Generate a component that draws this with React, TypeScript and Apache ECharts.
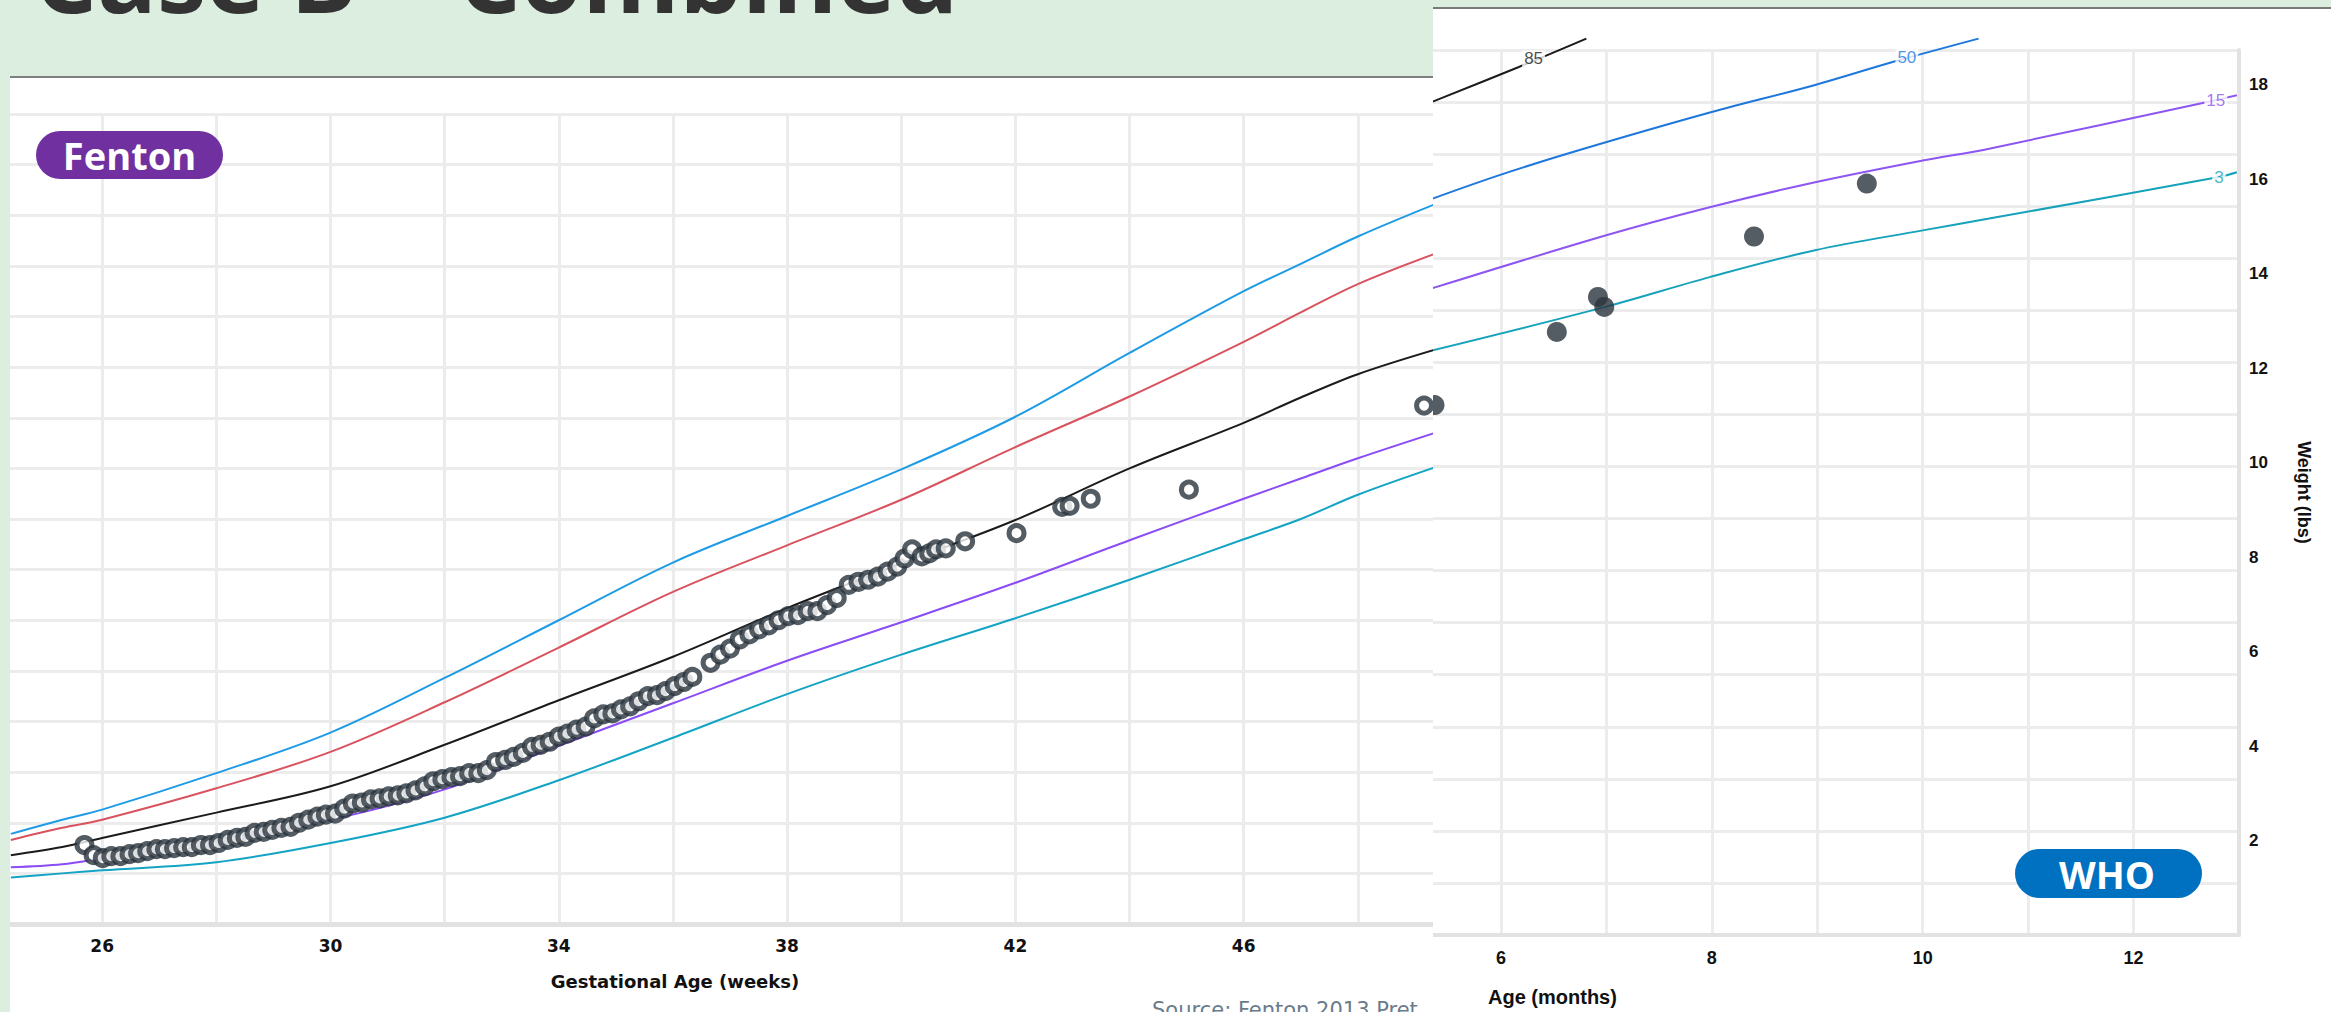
import React, { useEffect, useRef } from "react";
import * as echarts from "echarts";

// ---------------- Fenton (gestational age in weeks, weight in kg) ----------------
const fentonWeeks = [24.4, 25.3, 26, 28, 30, 32, 34, 36, 38, 40, 42, 44, 46, 47, 48, 49.4];
const fentonP97 = [0.89, 1.03, 1.13, 1.49, 1.89, 2.43, 3.0, 3.57, 4.03, 4.49, 5.01, 5.64, 6.25, 6.52, 6.79, 7.12];
const fentonP90 = [0.83, 0.95, 1.03, 1.34, 1.7, 2.19, 2.73, 3.28, 3.74, 4.19, 4.71, 5.21, 5.75, 6.04, 6.32, 6.63];
const fentonP50 = [0.68, 0.76, 0.85, 1.1, 1.36, 1.77, 2.21, 2.64, 3.12, 3.56, 3.99, 4.5, 4.95, 5.2, 5.43, 5.68];
const fentonP10 = [0.56, 0.59, 0.65, 0.83, 1.03, 1.33, 1.76, 2.18, 2.6, 2.98, 3.37, 3.79, 4.2, 4.4, 4.6, 4.86];
const fentonP3 = [0.46, 0.5, 0.53, 0.61, 0.8, 1.05, 1.42, 1.84, 2.27, 2.66, 3.02, 3.4, 3.8, 4.0, 4.24, 4.52];
const fentonTickLabels = [26, 30, 34, 38, 42, 46];

const fentonPatientWeeks = [
  25.69, 25.85, 26.01, 26.16, 26.32, 26.48, 26.63, 26.79, 26.95, 27.1, 27.26, 27.42, 27.57, 27.73, 27.89,
  28.04, 28.2, 28.36, 28.51, 28.67, 28.83, 28.98, 29.14, 29.3, 29.45, 29.61, 29.77, 29.92, 30.08, 30.24,
  30.39, 30.55, 30.71, 30.86, 31.02, 31.18, 31.33, 31.49, 31.65, 31.8, 31.96, 32.12, 32.27, 32.43, 32.59,
  32.74, 32.9, 33.06, 33.21, 33.37, 33.53, 33.68, 33.84, 34.0, 34.15, 34.31, 34.47, 34.62, 34.78, 34.94,
  35.09, 35.25, 35.4, 35.56, 35.72, 35.87, 36.03, 36.19, 36.34, 36.66, 36.83, 37.0, 37.17, 37.34, 37.51,
  37.68, 37.85, 38.02, 38.19, 38.36, 38.53, 38.7, 38.87, 39.08, 39.25, 39.42, 39.59, 39.76, 39.93, 40.06,
  40.19, 40.36, 40.49, 40.61, 40.78, 41.12, 42.02, 42.82, 42.95, 43.32, 45.04, 49.16,
];
const fentonPatientKg = [
  0.78, 0.68, 0.65, 0.67, 0.67, 0.69, 0.7, 0.72, 0.74, 0.74, 0.75, 0.76, 0.76, 0.78, 0.78,
  0.8, 0.83, 0.85, 0.86, 0.9, 0.91, 0.93, 0.95, 0.96, 1.0, 1.03, 1.06, 1.08, 1.09, 1.14,
  1.19, 1.2, 1.23, 1.24, 1.26, 1.27, 1.29, 1.32, 1.36, 1.41, 1.43, 1.45, 1.46, 1.49, 1.49,
  1.52, 1.6, 1.62, 1.65, 1.69, 1.75, 1.77, 1.8, 1.85, 1.88, 1.92, 1.95, 2.03, 2.07, 2.08,
  2.12, 2.15, 2.2, 2.25, 2.26, 2.3, 2.35, 2.39, 2.44, 2.58, 2.66, 2.72, 2.81, 2.86, 2.91,
  2.95, 3.0, 3.04, 3.05, 3.09, 3.09, 3.15, 3.22, 3.35, 3.38, 3.4, 3.43, 3.48, 3.53, 3.61,
  3.7, 3.63, 3.66, 3.7, 3.71, 3.78, 3.86, 4.12, 4.13, 4.2, 4.29, 5.12,
];

// ---------------- WHO (age in months, weight in lbs) ----------------
const whoP85Months = [5.3, 6.17, 6.81];
const whoP85Lbs = [17.6, 18.38, 18.98];
const whoP50Months = [5.3, 6.0, 6.73, 7.99, 8.98, 9.74, 10.53];
const whoP50Lbs = [15.55, 16.1, 16.61, 17.42, 18.0, 18.5, 18.98];
const whoP15Months = [5.3, 6.99, 7.98, 8.98, 10.0, 10.63, 12.7, 12.98];
const whoP15Lbs = [13.66, 14.81, 15.41, 15.94, 16.4, 16.65, 17.64, 17.78];
const whoP3Months = [5.3, 6.99, 7.98, 8.98, 10.0, 10.63, 12.81, 12.98];
const whoP3Lbs = [12.35, 13.3, 13.93, 14.5, 14.92, 15.17, 16.05, 16.15];
const whoTickLabels = [6, 8, 10, 12];
const whoLbTickLabels = [2, 4, 6, 8, 10, 12, 14, 16, 18];

const whoLabelNames = ["85", "50", "15", "3"];
const whoLabelMonths = [6.31, 9.85, 12.78, 12.81];
const whoLabelLbs = [18.55, 18.58, 17.68, 16.05];

const whoPatientMonths = [5.37, 6.53, 6.92, 6.98, 8.4, 9.47];
const whoPatientLbs = [11.22, 12.77, 13.51, 13.3, 14.79, 15.91];

const LB_PER_KG = 2.20462;

// ---------------- styles ----------------
const GRID = "#ececec";
const AXIS = "#e2e2e2";
const DOT = "#2b343d";
const fentonColors = ["#1f9be6", "#d9535f", "#1b1b1b", "#8a4cf5", "#13a4c4"];
const whoColors = ["#1b1b1b", "#1e78dc", "#8d55f2", "#17a2bb"];

const zip = (xs: number[], ys: number[]) => xs.map((x, i) => [x, ys[i]]);

function EChart({ option, style }: { option: any; style: React.CSSProperties }) {
  const ref = useRef<HTMLDivElement>(null);
  useEffect(() => {
    const chart = echarts.init(ref.current as HTMLDivElement, null, { renderer: "svg" });
    chart.setOption(option);
    return () => chart.dispose();
  }, []);
  return <div ref={ref} style={style} />;
}

const txt = (x: number, y: number, text: string, font: string, fill: string, align = "center", valign = "middle", z = 50) => ({
  type: "text",
  x,
  y,
  z,
  silent: true,
  style: { text, font, fill, textAlign: align, textVerticalAlign: valign, align, verticalAlign: valign },
});

const fentonCurves = [fentonP97, fentonP90, fentonP50, fentonP10, fentonP3];

const fentonOption = {
  animation: false,
  grid: { left: -22, right: -39, top: 114, bottom: 88, containLabel: false, outerBoundsMode: "none" },
  xAxis: {
    type: "value",
    min: 24,
    max: 50,
    interval: 2,
    axisLine: { show: true, lineStyle: { color: AXIS, width: 5 } },
    axisTick: { show: false },
    axisLabel: {
      margin: 13,
      formatter: (v: number) => (fentonTickLabels.indexOf(v) >= 0 ? String(v) : ""),
      color: "#111",
      fontFamily: "DejaVu Sans",
      fontWeight: "bold",
      fontSize: 17,
    },
    splitLine: { show: true, lineStyle: { color: GRID, width: 3 } },
  },
  yAxis: {
    type: "value",
    min: 0,
    max: 8,
    interval: 0.5,
    axisLine: { show: false },
    axisTick: { show: false },
    axisLabel: { show: false },
    splitLine: { show: true, lineStyle: { color: GRID, width: 3 } },
  },
  series: [
    ...fentonCurves.map((arr, i) => ({
      type: "line",
      data: zip(fentonWeeks, arr),
      smooth: 0.35,
      symbol: "none",
      silent: true,
      z: 3,
      lineStyle: { color: fentonColors[i], width: 2 },
    })),
    {
      type: "scatter",
      data: zip(fentonPatientWeeks, fentonPatientKg),
      symbol: "circle",
      symbolSize: 15,
      silent: true,
      z: 5,
      itemStyle: { color: "#ffffff", borderColor: DOT, borderWidth: 5 },
    },
  ],
  graphic: [
    txt(24, -26, "Case B – Combined", 'bold 99px "Open Sans"', "#333333", "left", "middle"),
    {
      type: "rect",
      z: 60,
      silent: true,
      shape: { x: 26, y: 131, width: 187, height: 48, r: 24 },
      style: { fill: "#7030a0" },
    },
    txt(119.5, 155, "Fenton", 'bold 38px "Open Sans"', "#ffffff", "center", "middle", 61),
    txt(665, 981, "Gestational Age (weeks)", 'bold 18px "DejaVu Sans"', "#111111"),
    txt(1142, 999, "Source: Fenton 2013 Pret", '21px "DejaVu Sans"', "#6a7b8c", "left", "top"),
  ],
};

const whoCurves = [
  zip(whoP85Months, whoP85Lbs),
  zip(whoP50Months, whoP50Lbs),
  zip(whoP15Months, whoP15Lbs),
  zip(whoP3Months, whoP3Lbs),
];

const labelStyle = { fontFamily: "Liberation Sans", fontSize: 18, fontWeight: "bold", color: "#111" };

const whoOption = {
  animation: false,
  grid: { left: -37.5, right: 92, top: 50, bottom: 77, containLabel: false, outerBoundsMode: "none" },
  xAxis: {
    type: "value",
    min: 5,
    max: 13,
    interval: 1,
    axisLine: { show: true, lineStyle: { color: AXIS, width: 4 } },
    axisTick: { show: false },
    axisLabel: {
      ...labelStyle,
      margin: 14,
      formatter: (v: number) => (whoTickLabels.indexOf(v) >= 0 ? String(v) : ""),
    },
    splitLine: { show: true, lineStyle: { color: GRID, width: 3 } },
  },
  yAxis: [
    {
      type: "value",
      min: 0,
      max: 8.5,
      interval: 0.5,
      position: "left",
      axisLine: { show: false },
      axisTick: { show: false },
      axisLabel: { show: false },
      splitLine: { show: true, lineStyle: { color: GRID, width: 3 } },
    },
    {
      type: "value",
      min: 0,
      max: 8.5 * LB_PER_KG,
      interval: 2,
      position: "right",
      axisLine: { show: true, lineStyle: { color: AXIS, width: 4 } },
      axisTick: { show: false },
      axisLabel: {
        ...labelStyle,
        fontSize: 17,
        margin: 10,
        formatter: (v: number) => (whoLbTickLabels.indexOf(v) >= 0 ? String(v) : ""),
      },
      splitLine: { show: false },
      name: "Weight (lbs)",
      nameLocation: "middle",
      nameRotate: -90,
      nameGap: 56,
      nameTextStyle: { ...labelStyle, fontSize: 18 },
    },
  ],
  series: [
    ...whoCurves.map((d, i) => ({
      type: "line",
      yAxisIndex: 1,
      data: d,
      smooth: 0.35,
      symbol: "none",
      clip: false,
      silent: true,
      z: 3,
      lineStyle: { color: whoColors[i], width: 2 },
    })),
    {
      type: "scatter",
      yAxisIndex: 1,
      symbolSize: 0,
      clip: false,
      silent: true,
      z: 4,
      data: whoLabelNames.map((n, i) => ({
        name: n,
        value: [whoLabelMonths[i], whoLabelLbs[i]],
        label: { color: whoColors[i] },
      })),
      label: {
        show: true,
        position: "inside",
        formatter: "{b}",
        fontFamily: "Liberation Sans",
        fontSize: 17,
        backgroundColor: "#ffffff",
        padding: [0, 2],
      },
    },
    {
      type: "scatter",
      yAxisIndex: 1,
      data: zip(whoPatientMonths, whoPatientLbs),
      symbol: "circle",
      symbolSize: 20,
      silent: true,
      z: 5,
      itemStyle: { color: DOT },
    },
  ],
  graphic: [
    {
      type: "rect",
      z: 60,
      silent: true,
      shape: { x: 582, y: 849, width: 187, height: 49, r: 24.5 },
      style: { fill: "#0070c0" },
    },
    txt(674, 874, "WHO", 'bold 38px "Open Sans"', "#ffffff", "center", "middle", 61),
    txt(55, 997, "Age (months)", 'bold 20px "Liberation Sans"', "#111111", "left", "middle"),
  ],
};

export default function App() {
  return (
    <div
      style={{
        position: "fixed",
        left: 0,
        top: 0,
        width: 2331,
        height: 1012,
        background: "#dceedf",
        overflow: "hidden",
      }}
    >
      <div
        style={{
          position: "absolute",
          left: 10,
          top: 76,
          width: 1423,
          height: 936,
          background: "#ffffff",
          borderTop: "2px solid #7f7f7f",
          boxSizing: "border-box",
        }}
      />
      <div
        style={{
          position: "absolute",
          left: 1433,
          top: 7,
          width: 898,
          height: 1005,
          background: "#ffffff",
          borderTop: "2px solid #7a7a7a",
          boxSizing: "border-box",
        }}
      />
      <EChart option={fentonOption} style={{ position: "absolute", left: 10, top: 0, width: 1423, height: 1012 }} />
      <EChart option={whoOption} style={{ position: "absolute", left: 1433, top: 0, width: 898, height: 1012 }} />
    </div>
  );
}
